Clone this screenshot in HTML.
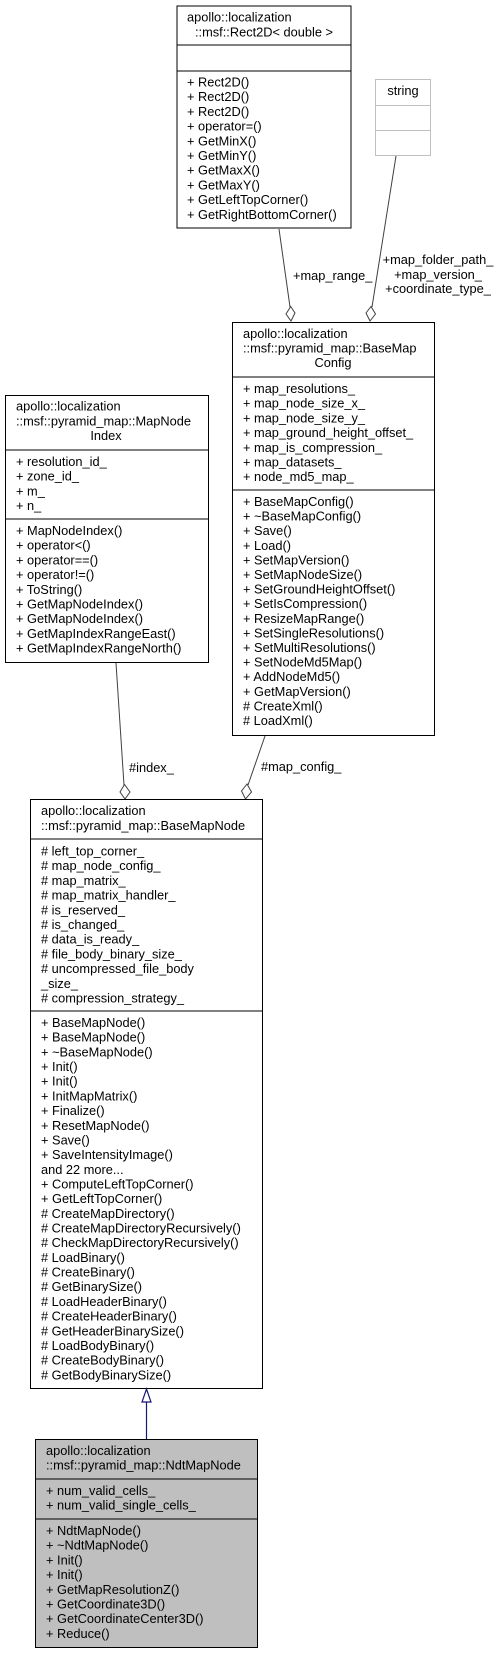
<!DOCTYPE html>
<html><head><meta charset="utf-8"><style>
html,body{margin:0;padding:0;background:#fff;}
svg{display:block;}
text{font-family:"Liberation Sans",sans-serif;font-size:12.8px;fill:#000;}
</style></head><body>
<svg width="500" height="1653" viewBox="0 0 500 1653" xmlns="http://www.w3.org/2000/svg">
<!-- Rect2D -->
<rect x="177" y="6" width="174" height="222" fill="#fff" stroke="#000" stroke-width="1"/>
<line x1="177" y1="45" x2="351" y2="45" stroke="#000"/>
<line x1="177" y1="71" x2="351" y2="71" stroke="#000"/>
<text x="187" y="21.5">apollo::localization</text>
<text x="264" y="36.5" text-anchor="middle">::msf::Rect2D&lt; double &gt;</text>
<text x="187" y="86.5"><tspan x="187">+ Rect2D()</tspan><tspan x="187" dy="14.7">+ Rect2D()</tspan><tspan x="187" dy="14.7">+ Rect2D()</tspan><tspan x="187" dy="14.7">+ operator=()</tspan><tspan x="187" dy="14.7">+ GetMinX()</tspan><tspan x="187" dy="14.7">+ GetMinY()</tspan><tspan x="187" dy="14.7">+ GetMaxX()</tspan><tspan x="187" dy="14.7">+ GetMaxY()</tspan><tspan x="187" dy="14.7">+ GetLeftTopCorner()</tspan><tspan x="187" dy="14.7">+ GetRightBottomCorner()</tspan></text>
<!-- string -->
<rect x="375.5" y="79.5" width="55" height="76" fill="#fff" stroke="#bfbfbf"/>
<line x1="375" y1="105.5" x2="431" y2="105.5" stroke="#bfbfbf"/>
<line x1="375" y1="130.5" x2="431" y2="130.5" stroke="#bfbfbf"/>
<text x="403" y="95" text-anchor="middle">string</text>
<!-- edges to BaseMapConfig -->
<line x1="279" y1="229" x2="290" y2="307" stroke="#404040"/>
<polygon points="290.7,306.5 295,313 291,321 286,314" fill="#fff" stroke="#404040"/>
<text x="293" y="280">+map_range_</text>
<line x1="396" y1="156" x2="372" y2="307" stroke="#404040"/>
<polygon points="371,306.5 375.5,314 370,321 366,313" fill="#fff" stroke="#404040"/>
<text x="438" y="264" text-anchor="middle">+map_folder_path_</text>
<text x="438" y="279" text-anchor="middle">+map_version_</text>
<text x="438" y="293" text-anchor="middle">+coordinate_type_</text>
<!-- BaseMapConfig -->
<rect x="232.5" y="322.5" width="202" height="413" fill="#fff" stroke="#000"/>
<line x1="232" y1="377" x2="435" y2="377" stroke="#000"/>
<line x1="232" y1="490" x2="435" y2="490" stroke="#000"/>
<text x="243" y="338">apollo::localization</text>
<text x="243" y="352.5">::msf::pyramid_map::BaseMap</text>
<text x="333" y="367" text-anchor="middle">Config</text>
<text x="243" y="393"><tspan x="243">+ map_resolutions_</tspan><tspan x="243" dy="14.7">+ map_node_size_x_</tspan><tspan x="243" dy="14.7">+ map_node_size_y_</tspan><tspan x="243" dy="14.7">+ map_ground_height_offset_</tspan><tspan x="243" dy="14.7">+ map_is_compression_</tspan><tspan x="243" dy="14.7">+ map_datasets_</tspan><tspan x="243" dy="14.7">+ node_md5_map_</tspan></text>
<text x="243" y="506"><tspan x="243">+ BaseMapConfig()</tspan><tspan x="243" dy="14.6">+ ~BaseMapConfig()</tspan><tspan x="243" dy="14.6">+ Save()</tspan><tspan x="243" dy="14.6">+ Load()</tspan><tspan x="243" dy="14.6">+ SetMapVersion()</tspan><tspan x="243" dy="14.6">+ SetMapNodeSize()</tspan><tspan x="243" dy="14.6">+ SetGroundHeightOffset()</tspan><tspan x="243" dy="14.6">+ SetIsCompression()</tspan><tspan x="243" dy="14.6">+ ResizeMapRange()</tspan><tspan x="243" dy="14.6">+ SetSingleResolutions()</tspan><tspan x="243" dy="14.6">+ SetMultiResolutions()</tspan><tspan x="243" dy="14.6">+ SetNodeMd5Map()</tspan><tspan x="243" dy="14.6">+ AddNodeMd5()</tspan><tspan x="243" dy="14.6">+ GetMapVersion()</tspan><tspan x="243" dy="14.6"># CreateXml()</tspan><tspan x="243" dy="14.6"># LoadXml()</tspan></text>
<!-- MapNodeIndex -->
<rect x="5.5" y="395.5" width="203" height="267" fill="#fff" stroke="#000"/>
<line x1="5" y1="450" x2="209" y2="450" stroke="#000"/>
<line x1="5" y1="519" x2="209" y2="519" stroke="#000"/>
<text x="16" y="410.5">apollo::localization</text>
<text x="16" y="425.5">::msf::pyramid_map::MapNode</text>
<text x="106" y="440" text-anchor="middle">Index</text>
<text x="16" y="466"><tspan x="16">+ resolution_id_</tspan><tspan x="16" dy="14.7">+ zone_id_</tspan><tspan x="16" dy="14.7">+ m_</tspan><tspan x="16" dy="14.7">+ n_</tspan></text>
<text x="16" y="535"><tspan x="16">+ MapNodeIndex()</tspan><tspan x="16" dy="14.7">+ operator&lt;()</tspan><tspan x="16" dy="14.7">+ operator==()</tspan><tspan x="16" dy="14.7">+ operator!=()</tspan><tspan x="16" dy="14.7">+ ToString()</tspan><tspan x="16" dy="14.7">+ GetMapNodeIndex()</tspan><tspan x="16" dy="14.7">+ GetMapNodeIndex()</tspan><tspan x="16" dy="14.7">+ GetMapIndexRangeEast()</tspan><tspan x="16" dy="14.7">+ GetMapIndexRangeNorth()</tspan></text>
<!-- edges to BaseMapNode -->
<line x1="116" y1="663" x2="124" y2="785" stroke="#404040"/>
<polygon points="124.5,784.5 130,792 125,799 120,792" fill="#fff" stroke="#404040"/>
<text x="129" y="772">#index_</text>
<line x1="265" y1="736" x2="248" y2="785" stroke="#404040"/>
<polygon points="247,784 251.5,792 245.5,799 241.5,791" fill="#fff" stroke="#404040"/>
<text x="261" y="771">#map_config_</text>
<!-- BaseMapNode -->
<rect x="30.5" y="799.5" width="232" height="589" fill="#fff" stroke="#000"/>
<line x1="30" y1="839" x2="263" y2="839" stroke="#000"/>
<line x1="30" y1="1011" x2="263" y2="1011" stroke="#000"/>
<text x="41" y="815">apollo::localization</text>
<text x="41" y="830">::msf::pyramid_map::BaseMapNode</text>
<text x="41" y="855.5"><tspan x="41"># left_top_corner_</tspan><tspan x="41" dy="14.7"># map_node_config_</tspan><tspan x="41" dy="14.7"># map_matrix_</tspan><tspan x="41" dy="14.7"># map_matrix_handler_</tspan><tspan x="41" dy="14.7"># is_reserved_</tspan><tspan x="41" dy="14.7"># is_changed_</tspan><tspan x="41" dy="14.7"># data_is_ready_</tspan><tspan x="41" dy="14.7"># file_body_binary_size_</tspan><tspan x="41" dy="14.7"># uncompressed_file_body</tspan><tspan x="41" dy="14.7">_size_</tspan><tspan x="41" dy="14.7"># compression_strategy_</tspan></text>
<text x="41" y="1027"><tspan x="41">+ BaseMapNode()</tspan><tspan x="41" dy="14.68">+ BaseMapNode()</tspan><tspan x="41" dy="14.68">+ ~BaseMapNode()</tspan><tspan x="41" dy="14.68">+ Init()</tspan><tspan x="41" dy="14.68">+ Init()</tspan><tspan x="41" dy="14.68">+ InitMapMatrix()</tspan><tspan x="41" dy="14.68">+ Finalize()</tspan><tspan x="41" dy="14.68">+ ResetMapNode()</tspan><tspan x="41" dy="14.68">+ Save()</tspan><tspan x="41" dy="14.68">+ SaveIntensityImage()</tspan><tspan x="41" dy="14.68">and 22 more...</tspan><tspan x="41" dy="14.68">+ ComputeLeftTopCorner()</tspan><tspan x="41" dy="14.68">+ GetLeftTopCorner()</tspan><tspan x="41" dy="14.68"># CreateMapDirectory()</tspan><tspan x="41" dy="14.68"># CreateMapDirectoryRecursively()</tspan><tspan x="41" dy="14.68"># CheckMapDirectoryRecursively()</tspan><tspan x="41" dy="14.68"># LoadBinary()</tspan><tspan x="41" dy="14.68"># CreateBinary()</tspan><tspan x="41" dy="14.68"># GetBinarySize()</tspan><tspan x="41" dy="14.68"># LoadHeaderBinary()</tspan><tspan x="41" dy="14.68"># CreateHeaderBinary()</tspan><tspan x="41" dy="14.68"># GetHeaderBinarySize()</tspan><tspan x="41" dy="14.68"># LoadBodyBinary()</tspan><tspan x="41" dy="14.68"># CreateBodyBinary()</tspan><tspan x="41" dy="14.68"># GetBodyBinarySize()</tspan></text>
<!-- inheritance -->
<line x1="146.5" y1="1402" x2="146.5" y2="1439" stroke="#191970" stroke-width="1.2"/>
<polygon points="146.5,1389 151,1402 142,1402" fill="#fff" stroke="#191970" stroke-width="1.2"/>
<!-- NdtMapNode -->
<rect x="35.5" y="1439.5" width="222" height="208" fill="#bfbfbf" stroke="#000"/>
<line x1="35" y1="1479" x2="258" y2="1479" stroke="#000"/>
<line x1="35" y1="1519" x2="258" y2="1519" stroke="#000"/>
<text x="46" y="1455">apollo::localization</text>
<text x="46" y="1469.5">::msf::pyramid_map::NdtMapNode</text>
<text x="46" y="1495"><tspan x="46">+ num_valid_cells_</tspan><tspan x="46" dy="14.7">+ num_valid_single_cells_</tspan></text>
<text x="46" y="1535"><tspan x="46">+ NdtMapNode()</tspan><tspan x="46" dy="14.7">+ ~NdtMapNode()</tspan><tspan x="46" dy="14.7">+ Init()</tspan><tspan x="46" dy="14.7">+ Init()</tspan><tspan x="46" dy="14.7">+ GetMapResolutionZ()</tspan><tspan x="46" dy="14.7">+ GetCoordinate3D()</tspan><tspan x="46" dy="14.7">+ GetCoordinateCenter3D()</tspan><tspan x="46" dy="14.7">+ Reduce()</tspan></text>
</svg>
</body></html>
